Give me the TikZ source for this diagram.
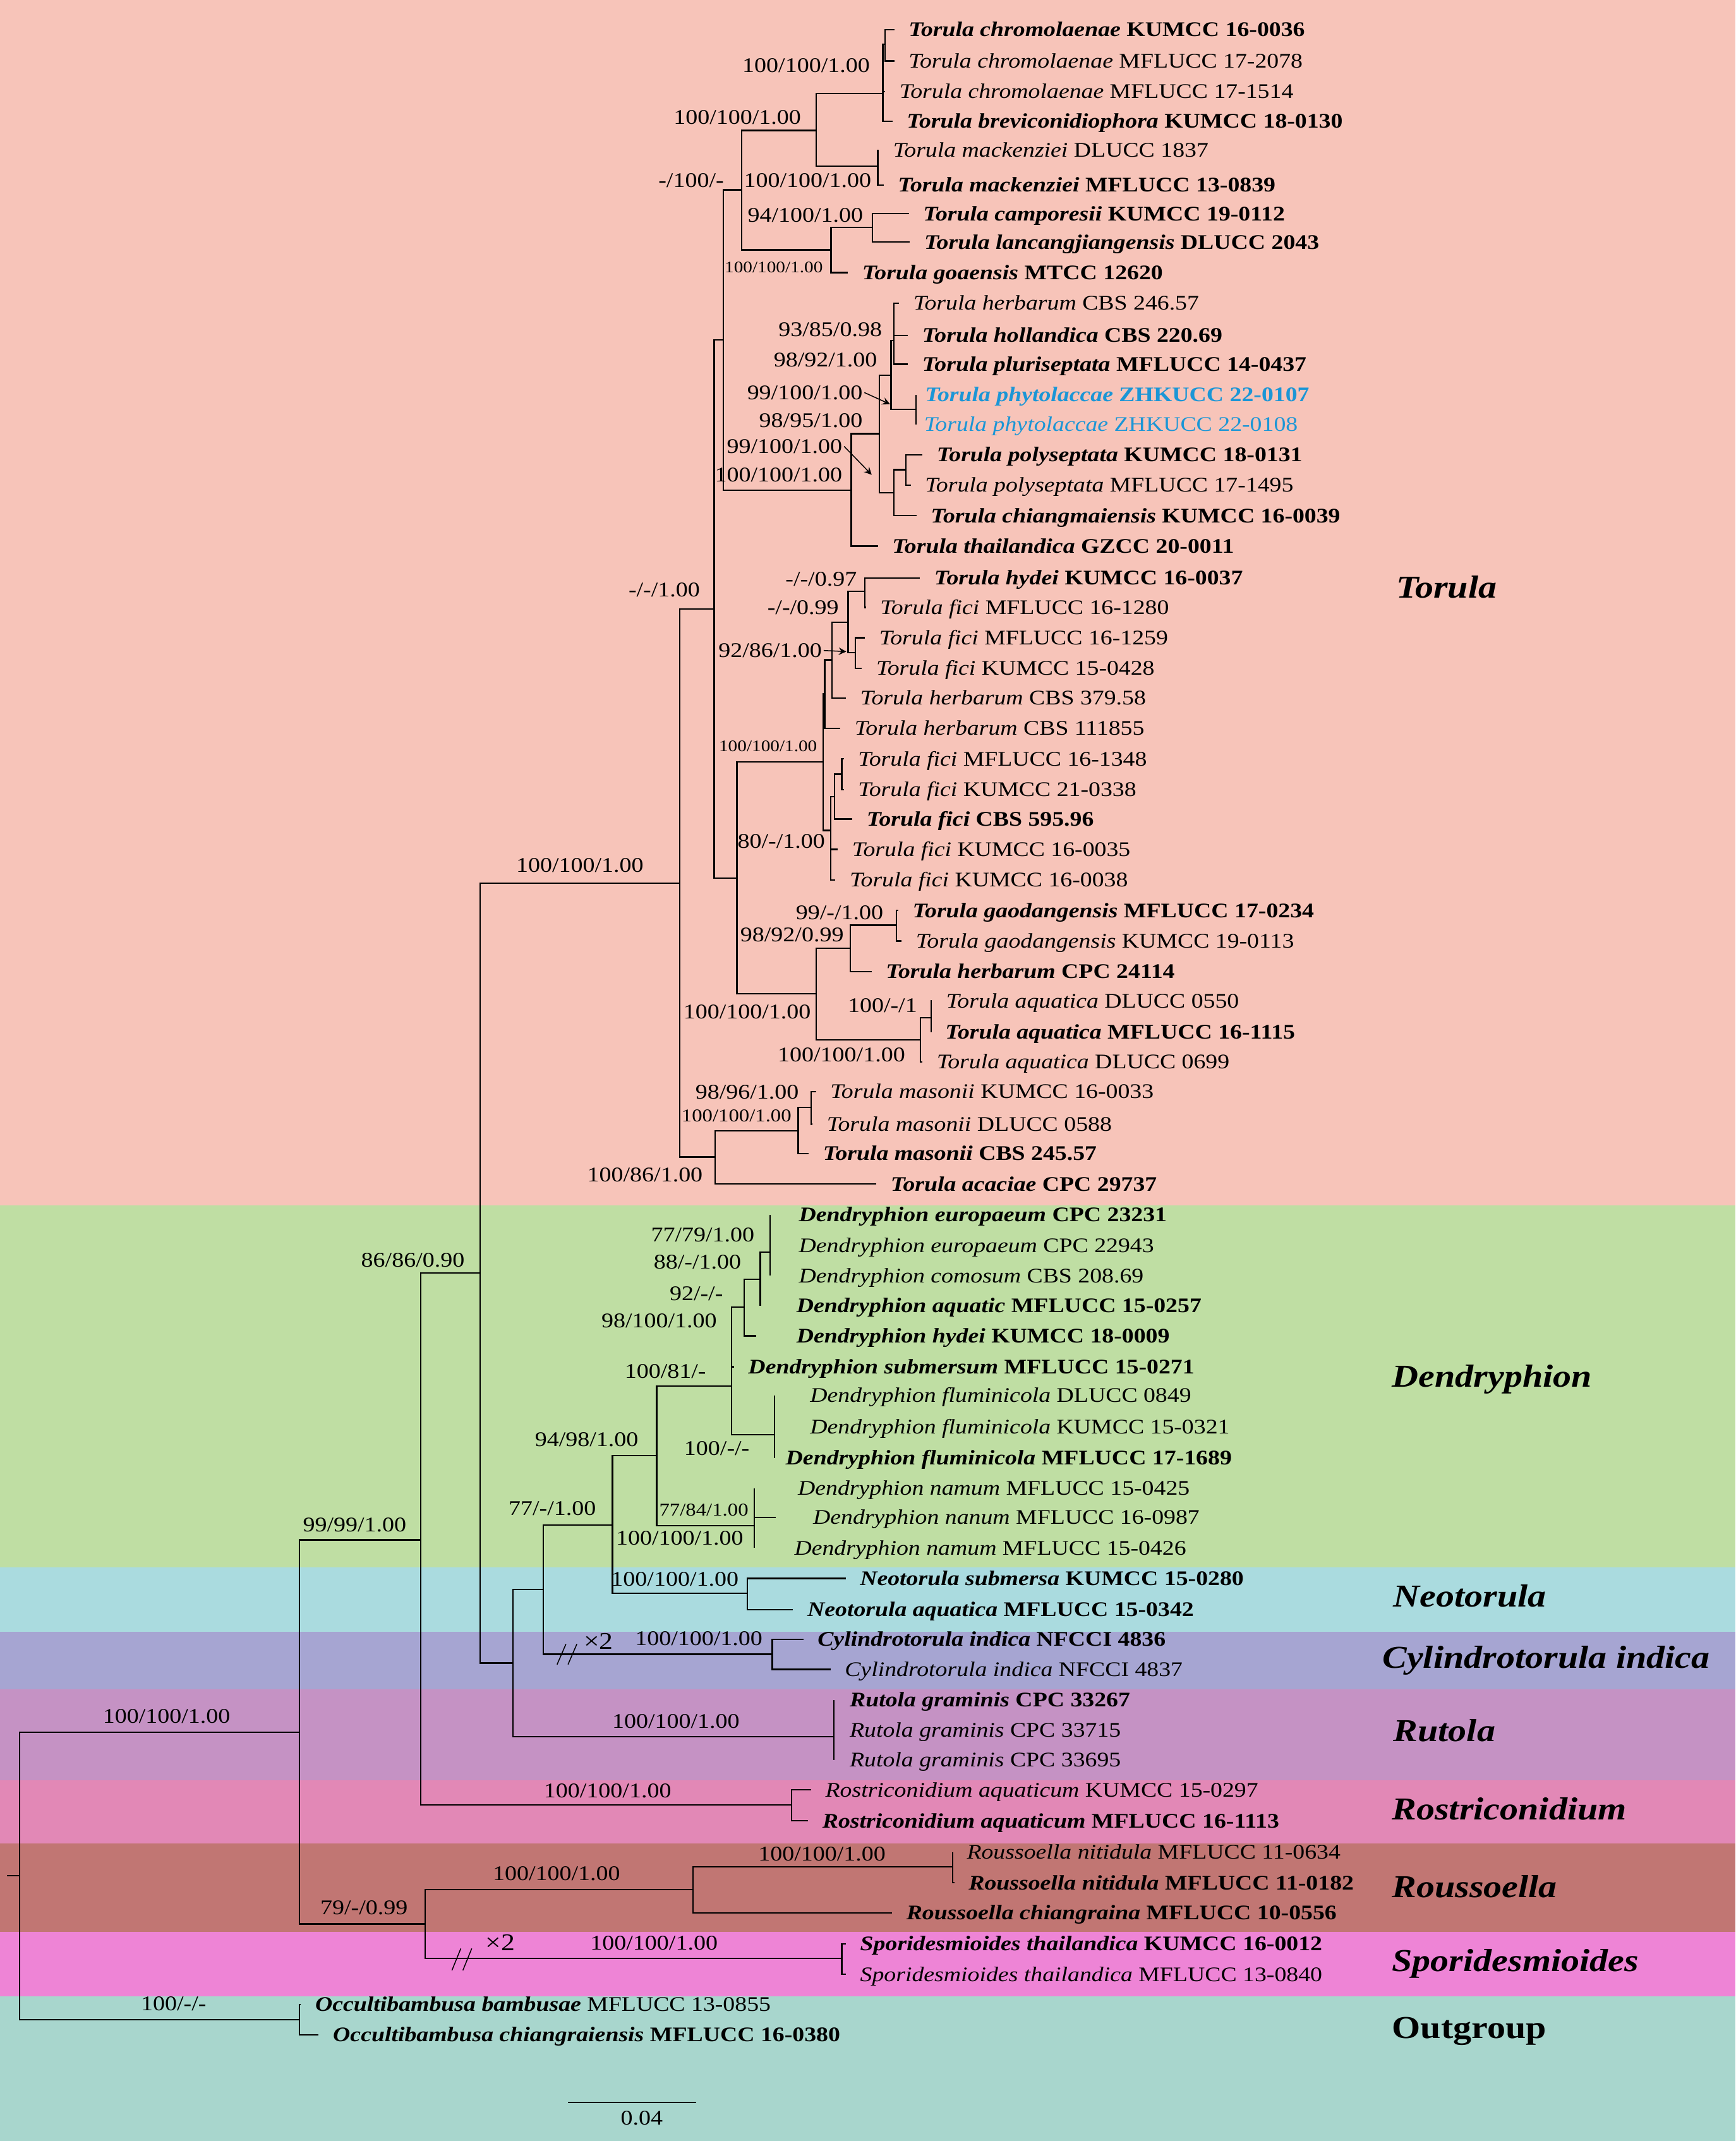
\documentclass[tikz,border=0pt]{standalone}
\usepackage{fontspec}
\setmainfont{Liberation Serif}[FakeStretch=1.15]
\usepackage{tikz}
\usepackage{xcolor}
\definecolor{torbg}{RGB}{247,196,185}
\definecolor{denbg}{RGB}{191,222,163}
\definecolor{neobg}{RGB}{170,219,223}
\definecolor{cylbg}{RGB}{166,165,210}
\definecolor{rutbg}{RGB}{197,146,196}
\definecolor{rosbg}{RGB}{226,136,182}
\definecolor{roubg}{RGB}{193,118,115}
\definecolor{spobg}{RGB}{238,132,214}
\definecolor{outbg}{RGB}{168,214,205}
\definecolor{phyblue}{RGB}{27,150,214}

\begin{document}
\begin{tikzpicture}[x=0.02cm, y=-0.02cm, >=stealth, line width=0.6pt,
    taxon/.style={anchor=west, inner xsep=0.2cm, inner ysep=0pt, font=\fontsize{8.65}{10}\selectfont, text height=5.7pt, text depth=0pt},
    supp/.style={anchor=east, inner sep=0.5pt, font=\fontsize{8.7}{10}\selectfont, text height=5.9pt, text depth=0pt},
    suppmd/.style={supp, font=\fontsize{7.5}{9}\selectfont, text height=5.1pt},
    suppsm/.style={supp, font=\fontsize{6.7}{8}\selectfont, text height=4.5pt},
    clade/.style={anchor=west, inner sep=0pt, font=\fontsize{13.3}{15}\selectfont\bfseries\itshape, text height=8.8pt, text depth=0pt},
    times/.style={anchor=west, inner sep=0pt, font=\fontsize{10}{12}\selectfont}]
    \useasboundingbox (0,0) rectangle (1271,1568);

    \fill[torbg] (0,0) rectangle (1271,883);
    \fill[denbg] (0,883) rectangle (1271,1148);
    \fill[neobg] (0,1148) rectangle (1271,1195);
    \fill[cylbg] (0,1195) rectangle (1271,1237);
    \fill[rutbg] (0,1237) rectangle (1271,1304);
    \fill[rosbg] (0,1304) rectangle (1271,1350);
    \fill[roubg] (0,1350) rectangle (1271,1415);
    \fill[spobg] (0,1415) rectangle (1271,1462);
    \fill[outbg] (0,1462) rectangle (1271,1568);

    \coordinate (rootstub) at (5.2,1373.8);
    \coordinate (root) at (14.3,1373.8);
    \coordinate (ingroup) at (219.4,1268.5);
    \coordinate (outg) at (219.4,1479);
    \coordinate (core) at (308.2,1127.8);
    \coordinate (rousspor) at (311.5,1409);
    \coordinate (torgrp) at (351.6,932.4);
    \coordinate (rostr) at (579.7,1322);
    \coordinate (torula) at (497.9,646.7);
    \coordinate (rutgrp) at (375.8,1218);
    \coordinate (cylgrp) at (398,1164);
    \coordinate (rutola) at (610.7,1272);
    \coordinate (neogrp) at (448.6,1116.8);
    \coordinate (cylind) at (565.6,1211.5);
    \coordinate (dendr) at (480.9,1066);
    \coordinate (neot) at (547.5,1167);
    \coordinate (dsub) at (535.8,1015);
    \coordinate (dnam) at (552.5,1117.4);
    \coordinate (dhyd) at (544.9,957.4);
    \coordinate (daqu) at (556.8,936.9);
    \coordinate (deur) at (564.1,917.1);
    \coordinate (dflu) at (567.1,1050.6);
    \coordinate (rous) at (507.5,1384);
    \coordinate (rnit) at (697.6,1367.2);
    \coordinate (spor) at (616.5,1434.4);
    \coordinate (tmid) at (523.1,446);
    \coordinate (tmas) at (523.9,847.4);
    \coordinate (mas) at (584.6,828.3);
    \coordinate (mas2) at (594.2,811.2);
    \coordinate (tup) at (529.7,249);
    \coordinate (tfic) at (539.7,643);
    \coordinate (fici) at (603,558.1);
    \coordinate (tgao) at (597.7,727.7);
    \coordinate (gao) at (622.8,694.5);
    \coordinate (gao2) at (656.5,677.6);
    \coordinate (aqu) at (674.1,761.6);
    \coordinate (aqu2) at (682,745.4);
    \coordinate (fu3) at (604,508.3);
    \coordinate (fu2) at (609.4,483.3);
    \coordinate (fu1) at (621.1,455.6);
    \coordinate (fu0) at (633.5,433.2);
    \coordinate (fu1b) at (626.4,477.9);
    \coordinate (fl3) at (608.3,608.2);
    \coordinate (fl2) at (611.2,583.4);
    \coordinate (fl1) at (616.5,567);
    \coordinate (ttop) at (543.2,139);
    \coordinate (tphy) at (623.5,359);
    \coordinate (tchm) at (597.6,95.6);
    \coordinate (tcam) at (608.7,183);
    \coordinate (chrom) at (646.6,68.6);
    \coordinate (chrom2) at (648.3,32.4);
    \coordinate (mack) at (642.9,121.8);
    \coordinate (camp) at (638.8,166.5);
    \coordinate (p644) at (644,317.6);
    \coordinate (p652) at (652.6,274.7);
    \coordinate (herb) at (654.6,249.3);
    \coordinate (phyto) at (670.7,299.8);
    \coordinate (poly) at (654.7,360.8);
    \coordinate (poly2) at (663.5,344);

    \node[taxon] (l1) at (655,21.6) {\textbf{\textit{Torula chromolaenae} KUMCC 16-0036}};
    \node[taxon] (l2) at (655,44.7) {\textit{Torula chromolaenae} MFLUCC 17-2078};
    \node[taxon] (l3) at (648.2,67) {\textit{Torula chromolaenae} MFLUCC 17-1514};
    \node[taxon] (l4) at (653.6,88.7) {\textbf{\textit{Torula breviconidiophora} KUMCC 18-0130}};
    \node[taxon] (l5) at (643.6,110) {\textit{Torula mackenziei} DLUCC 1837};
    \node[taxon] (l6) at (647.1,135.5) {\textbf{\textit{Torula mackenziei} MFLUCC 13-0839}};
    \node[taxon] (l7) at (665.6,156.5) {\textbf{\textit{Torula camporesii} KUMCC 19-0112}};
    \node[taxon] (l8) at (666.4,177.3) {\textbf{\textit{Torula lancangjiangensis} DLUCC 2043}};
    \node[taxon] (l9) at (620.9,199.7) {\textbf{\textit{Torula goaensis} MTCC 12620}};
    \node[taxon] (l10) at (658.5,222) {\textit{Torula herbarum} CBS 246.57};
    \node[taxon] (l11) at (664.9,245.6) {\textbf{\textit{Torula hollandica} CBS 220.69}};
    \node[taxon] (l12) at (664.9,266.7) {\textbf{\textit{Torula pluriseptata} MFLUCC 14-0437}};
    \node[taxon, text=phyblue] (l13) at (667,289) {\textbf{\textit{Torula phytolaccae} ZHKUCC 22-0107}};
    \node[taxon, text=phyblue] (l14) at (666.3,310.7) {\textit{Torula phytolaccae} ZHKUCC 22-0108};
    \node[taxon] (l15) at (675.5,333) {\textbf{\textit{Torula polyseptata} KUMCC 18-0131}};
    \node[taxon] (l16) at (667,355.3) {\textit{Torula polyseptata} MFLUCC 17-1495};
    \node[taxon] (l17) at (671.2,377.7) {\textbf{\textit{Torula chiangmaiensis} KUMCC 16-0039}};
    \node[taxon] (l18) at (642.9,400) {\textbf{\textit{Torula thailandica} GZCC 20-0011}};
    \node[taxon] (l19) at (673.7,423.4) {\textbf{\textit{Torula hydei} KUMCC 16-0037}};
    \node[taxon] (l20) at (634.1,444.8) {\textit{Torula fici} MFLUCC 16-1280};
    \node[taxon] (l21) at (633.4,467.1) {\textit{Torula fici} MFLUCC 16-1259};
    \node[taxon] (l22) at (631.3,489.5) {\textit{Torula fici} KUMCC 15-0428};
    \node[taxon] (l23) at (619.6,511.1) {\textit{Torula herbarum} CBS 379.58};
    \node[taxon] (l24) at (615.4,533.4) {\textit{Torula herbarum} CBS 111855};
    \node[taxon] (l25) at (617.9,555.8) {\textit{Torula fici} MFLUCC 16-1348};
    \node[taxon] (l26) at (617.9,578.2) {\textit{Torula fici} KUMCC 21-0338};
    \node[taxon] (l27) at (624.2,599.8) {\textbf{\textit{Torula fici} CBS 595.96}};
    \node[taxon] (l28) at (613.6,622.1) {\textit{Torula fici} KUMCC 16-0035};
    \node[taxon] (l29) at (611.8,644.5) {\textit{Torula fici} KUMCC 16-0038};
    \node[taxon] (l30) at (657.8,666.8) {\textbf{\textit{Torula gaodangensis} MFLUCC 17-0234}};
    \node[taxon] (l31) at (660.3,689.2) {\textit{Torula gaodangensis} KUMCC 19-0113};
    \node[taxon] (l32) at (638.3,711.5) {\textbf{\textit{Torula herbarum} CPC 24114}};
    \node[taxon] (l33) at (682.5,733) {\textit{Torula aquatica} DLUCC 0550};
    \node[taxon] (l34) at (681.8,756) {\textbf{\textit{Torula aquatica} MFLUCC 16-1115}};
    \node[taxon] (l35) at (675.5,777.8) {\textit{Torula aquatica} DLUCC 0699};
    \node[taxon] (l36) at (597.6,799.4) {\textit{Torula masonii} KUMCC 16-0033};
    \node[taxon] (l37) at (595.1,823.3) {\textit{Torula masonii} DLUCC 0588};
    \node[taxon] (l38) at (592.3,844.9) {\textbf{\textit{Torula masonii} CBS 245.57}};
    \node[taxon] (l39) at (641.8,867.2) {\textbf{\textit{Torula acaciae} CPC 29737}};
    \node[taxon] (l40) at (574.6,889.6) {\textbf{\textit{Dendryphion europaeum} CPC 23231}};
    \node[taxon] (l41) at (574.6,912) {\textit{Dendryphion europaeum} CPC 22943};
    \node[taxon] (l42) at (574.6,934.3) {\textit{Dendryphion comosum} CBS 208.69};
    \node[taxon] (l43) at (572.8,956.4) {\textbf{\textit{Dendryphion aquatic} MFLUCC 15-0257}};
    \node[taxon, inner xsep=0.576cm] (l44) at (554,978.3) {\textbf{\textit{Dendryphion hydei} KUMCC 18-0009}};
    \node[taxon] (l45) at (537.5,1001) {\textbf{\textit{Dendryphion submersum} MFLUCC 15-0271}};
    \node[taxon] (l46) at (582.8,1022.1) {\textit{Dendryphion fluminicola} DLUCC 0849};
    \node[taxon] (l47) at (582.8,1045) {\textit{Dendryphion fluminicola} KUMCC 15-0321};
    \node[taxon] (l48) at (564.9,1067.9) {\textbf{\textit{Dendryphion fluminicola} MFLUCC 17-1689}};
    \node[taxon] (l49) at (573.9,1089.9) {\textit{Dendryphion namum} MFLUCC 15-0425};
    \node[taxon, inner xsep=0.54cm] (l50) at (568,1111.4) {\textit{Dendryphion nanum} MFLUCC 16-0987};
    \node[taxon] (l51) at (571.3,1133.7) {\textit{Dendryphion namum} MFLUCC 15-0426};
    \node[taxon] (l52) at (619.3,1156) {\textbf{\textit{Neotorula submersa} KUMCC 15-0280}};
    \node[taxon] (l53) at (580.8,1178.8) {\textbf{\textit{Neotorula aquatica} MFLUCC 15-0342}};
    \node[taxon] (l54) at (588.3,1200.5) {\textbf{\textit{Cylindrotorula indica} NFCCI 4836}};
    \node[taxon] (l55) at (608.2,1222.6) {\textit{Cylindrotorula indica} NFCCI 4837};
    \node[taxon] (l56) at (611.8,1245) {\textbf{\textit{Rutola graminis} CPC 33267}};
    \node[taxon] (l57) at (611.8,1267) {\textit{Rutola graminis} CPC 33715};
    \node[taxon] (l58) at (611.8,1288.9) {\textit{Rutola graminis} CPC 33695};
    \node[taxon] (l59) at (594,1310.9) {\textit{Rostriconidium aquaticum} KUMCC 15-0297};
    \node[taxon] (l60) at (591.8,1333.5) {\textbf{\textit{Rostriconidium aquaticum} MFLUCC 16-1113}};
    \node[taxon] (l61) at (697.6,1356.6) {\textit{Roussoella nitidula} MFLUCC 11-0634};
    \node[taxon] (l62) at (698.9,1378.9) {\textbf{\textit{Roussoella nitidula} MFLUCC 11-0182}};
    \node[taxon] (l63) at (653.3,1400.9) {\textbf{\textit{Roussoella chiangraina} MFLUCC 10-0556}};
    \node[taxon] (l64) at (619.5,1423.6) {\textbf{\textit{Sporidesmioides thailandica} KUMCC 16-0012}};
    \node[taxon] (l65) at (619.5,1446) {\textit{Sporidesmioides thailandica} MFLUCC 13-0840};
    \node[taxon] (l66) at (220.4,1467.9) {\textbf{\textit{Occultibambusa bambusae}} MFLUCC 13-0855};
    \node[taxon] (l67) at (233.4,1490.3) {\textbf{\textit{Occultibambusa chiangraiensis} MFLUCC 16-0380}};

    \draw (rootstub) -- (root);
    \draw (root) |- (ingroup);
    \draw (root) |- (outg);
    \draw (ingroup) |- (core);
    \draw (ingroup) |- (rousspor);
    \draw (core) |- (torgrp);
    \draw (core) |- (rostr);
    \draw (torgrp) |- (torula);
    \draw (torgrp) |- (rutgrp);
    \draw (rutgrp) |- (cylgrp);
    \draw (rutgrp) |- (rutola);
    \draw (cylgrp) |- (neogrp);
    \draw (cylgrp) |- (cylind);
    \draw (neogrp) |- (dendr);
    \draw (neogrp) |- (neot);
    \draw (dendr) |- (dsub);
    \draw (dendr) |- (dnam);
    \draw (dsub) |- (dhyd);
    \draw (dsub) |- (dflu);
    \draw (dhyd) |- (daqu);
    \draw (daqu) |- (deur);
    \draw (rousspor) |- (rous);
    \draw (rousspor) |- (spor);
    \draw (rous) |- (rnit);
    \draw (torula) |- (tmid);
    \draw (torula) |- (tmas);
    \draw (tmas) |- (mas);
    \draw (mas) |- (mas2);
    \draw (tmid) |- (tup);
    \draw (tmid) |- (tfic);
    \draw (tfic) |- (fici);
    \draw (tfic) |- (tgao);
    \draw (tgao) |- (gao);
    \draw (tgao) |- (aqu);
    \draw (gao) |- (gao2);
    \draw (aqu) |- (aqu2);
    \draw (fici) |- (fu3);
    \draw (fici) |- (fl3);
    \draw (fu3) |- (fu2);
    \draw (fu2) |- (fu1);
    \draw (fu1) |- (fu0);
    \draw (fu1) |- (fu1b);
    \draw (fl3) |- (fl2);
    \draw (fl2) |- (fl1);
    \draw (tup) |- (ttop);
    \draw (tup) |- (tphy);
    \draw (ttop) |- (tchm);
    \draw (ttop) |- (tcam);
    \draw (tchm) |- (chrom);
    \draw (tchm) |- (mack);
    \draw (chrom) |- (chrom2);
    \draw (tcam) |- (camp);
    \draw (tphy) |- (p644);
    \draw (p644) |- (p652);
    \draw (p644) |- (poly);
    \draw (p652) |- (herb);
    \draw (p652) |- (phyto);
    \draw (poly) |- (poly2);

    \draw (chrom2) |- (l1.west);
    \draw (chrom2) |- (l2.west);
    \draw (chrom) |- (l3.west);
    \draw (chrom) |- (l4.west);
    \draw (mack) |- (l5.west);
    \draw (mack) |- (l6.west);
    \draw (camp) |- (l7.west);
    \draw (camp) |- (l8.west);
    \draw (tcam) |- (l9.west);
    \draw (herb) |- (l10.west);
    \draw (herb) |- (l11.west);
    \draw (herb) |- (l12.west);
    \draw (phyto) -- (phyto |- l13.west);
    \draw (phyto) -- (phyto |- l14.west);
    \draw (poly2) |- (l15.west);
    \draw (poly2) |- (l16.west);
    \draw (poly) |- (l17.west);
    \draw (tphy) |- (l18.west);
    \draw (fu0) |- (l19.west);
    \draw (fu0) |- (l20.west);
    \draw (fu1b) |- (l21.west);
    \draw (fu1b) |- (l22.west);
    \draw (fu2) |- (l23.west);
    \draw (fu3) |- (l24.west);
    \draw (fl1) |- (l25.west);
    \draw (fl1) |- (l26.west);
    \draw (fl2) |- (l27.west);
    \draw (fl3) |- (l28.west);
    \draw (fl3) |- (l29.west);
    \draw (gao2) |- (l30.west);
    \draw (gao2) |- (l31.west);
    \draw (gao) |- (l32.west);
    \draw (aqu2) |- (l33.west);
    \draw (aqu2) -- (aqu2 |- l34.west);
    \draw (aqu) |- (l35.west);
    \draw (mas2) |- (l36.west);
    \draw (mas2) |- (l37.west);
    \draw (mas) |- (l38.west);
    \draw (tmas) |- (l39.west);
    \draw (deur) -- (deur |- l40.west);
    \draw (deur) -- (deur |- l42.west);
    \draw (daqu) -- (daqu |- l43.west);
    \draw (dhyd) |- (l44.west);
    \draw (dsub) |- (l45.west);
    \draw (dflu) -- (dflu |- l46.west);
    \draw (dflu) -- (dflu |- l48.west);
    \draw (dnam) -- (dnam |- l49.west);
    \draw (dnam) |- (l50.west);
    \draw (dnam) -- (dnam |- l51.west);
    \draw (neot) |- (l52.west);
    \draw (neot) |- (l53.west);
    \draw (cylind) |- (l54.west);
    \draw (cylind) |- (l55.west);
    \draw (rutola) -- (rutola |- l56.west);
    \draw (rutola) -- (rutola |- l58.west);
    \draw (rostr) |- (l59.west);
    \draw (rostr) |- (l60.west);
    \draw (rnit) -- (rnit |- l61.west);
    \draw (rnit) |- (l62.west);
    \draw (rous) |- (l63.west);
    \draw (spor) |- (l64.west);
    \draw (spor) |- (l65.west);
    \draw (outg) |- (l66.west);
    \draw (outg) |- (l67.west);

    \node[supp] (b1) at (638.4,47.8) {100/100/1.00};
    \node[supp] (b2) at (588,85.6) {100/100/1.00};
    \node[supp] (b3) at (531.5,131.8) {-/100/-};
    \node[supp] (b4) at (639.5,131.8) {100/100/1.00};
    \node[supp] (b5) at (633.5,157.3) {94/100/1.00};
    \node[suppsm] (b6) at (604,195.8) {100/100/1.00};
    \node[supp] (b7) at (647.3,241.3) {93/85/0.98};
    \node[supp] (b8) at (643.8,263.6) {98/92/1.00};
    \node[supp] (b9) at (633.1,287.5) {99/100/1.00};
    \node[supp] (b10) at (633.1,307.6) {98/95/1.00};
    \node[supp] (b11) at (618.2,326.9) {99/100/1.00};
    \node[supp] (b12) at (618.2,347.7) {100/100/1.00};
    \node[supp] (b13) at (514,431.7) {-/-/1.00};
    \node[supp] (b14) at (628.9,423.9) {-/-/0.97};
    \node[supp] (b15) at (615.7,444.8) {-/-/0.99};
    \node[supp] (b16) at (603.3,476.4) {92/86/1.00};
    \node[suppsm] (b17) at (599.8,546.6) {100/100/1.00};
    \node[supp] (b18) at (605.6,616) {80/-/1.00};
    \node[supp] (b19) at (648.3,668.3) {99/-/1.00};
    \node[supp] (b20) at (619.3,684.5) {98/92/0.99};
    \node[supp] (b21) at (673.1,736.2) {100/-/1};
    \node[supp] (b22) at (595.2,740.8) {100/100/1.00};
    \node[supp] (b23) at (664.3,772.4) {100/100/1.00};
    \node[supp] (b24) at (586.4,799.4) {98/96/1.00};
    \node[suppmd] (b25) at (581,817.2) {100/100/1.00};
    \node[supp] (b26) at (516,860.2) {100/86/1.00};
    \node[supp] (b27) at (472.7,633.5) {100/100/1.00};
    \node[supp] (b28) at (553.9,904.3) {77/79/1.00};
    \node[supp] (b29) at (544.2,924) {88/-/1.00};
    \node[supp] (b30) at (530.9,947.3) {92/-/-};
    \node[supp] (b31) at (526.4,966.9) {98/100/1.00};
    \node[supp] (b32) at (518.5,1004) {100/81/-};
    \node[supp] (b33) at (550.3,1060.7) {100/-/-};
    \node[supp] (b34) at (468.9,1053.9) {94/98/1.00};
    \node[suppmd] (b35) at (549.5,1105.5) {77/84/1.00};
    \node[supp] (b36) at (437.9,1104.6) {77/-/1.00};
    \node[supp] (b37) at (545.8,1126.5) {100/100/1.00};
    \node[supp] (b38) at (341.6,922.6) {86/86/0.90};
    \node[supp] (b39) at (299,1116.7) {99/99/1.00};
    \node[supp] (b40) at (542.3,1156.3) {100/100/1.00};
    \node[supp] (b41) at (559.8,1200) {100/100/1.00};
    \node[supp] (b42) at (543,1260.6) {100/100/1.00};
    \node[supp] (b43) at (493,1311.2) {100/100/1.00};
    \node[supp] (b44) at (170,1256.6) {100/100/1.00};
    \node[supp] (b45) at (300,1396.8) {79/-/0.99};
    \node[supp] (b46) at (455.6,1371.8) {100/100/1.00};
    \node[supp] (b47) at (650,1357.6) {100/100/1.00};
    \node[supp] (b48) at (527,1423) {100/100/1.00};
    \node[supp] (b49) at (152.5,1467.3) {100/-/-};

    \coordinate (arw1) at (651.8,296);
    \coordinate (arw2) at (638.4,347.7);
    \coordinate (arw3) at (619.8,477.2);
    \draw[->, line width=0.4pt] (b9.east) -- (arw1);
    \draw[->, line width=0.4pt] (b11.east) -- (arw2);
    \draw[->, line width=0.4pt] (b16.east) -- (arw3);

    \draw[line width=0.4pt] (408,1219) -- (414.5,1204);
    \draw[line width=0.4pt] (416,1219) -- (422.5,1204);
    \node[times] (x2a) at (427,1202) {×2};
    \draw[line width=0.4pt] (331,1443) -- (337.5,1427);
    \draw[line width=0.4pt] (339,1443) -- (345.5,1427);
    \node[times] (x2b) at (355,1422.6) {×2};

    \node[clade] (cTor) at (1022,430) {Torula};
    \node[clade] (cDen) at (1019,1008) {Dendryphion};
    \node[clade] (cNeo) at (1020,1169) {Neotorula};
    \node[clade] (cCyl) at (1012,1214) {Cylindrotorula indica};
    \node[clade] (cRut) at (1020,1267.5) {Rutola};
    \node[clade] (cRos) at (1019,1325) {Rostriconidium};
    \node[clade] (cRou) at (1019,1382) {Roussoella};
    \node[clade] (cSpo) at (1019,1436) {Sporidesmioides};
    \node[clade, font=\fontsize{13.3}{15}\selectfont\bfseries] (cOut) at (1019,1485) {Outgroup};

    \coordinate (sbl) at (416,1539.9);
    \coordinate (sbr) at (510,1539.9);
    \draw (sbl) -- (sbr);
    \node[supp, anchor=center] (sbt) at (470,1551) {0.04};
\end{tikzpicture}
\end{document}
